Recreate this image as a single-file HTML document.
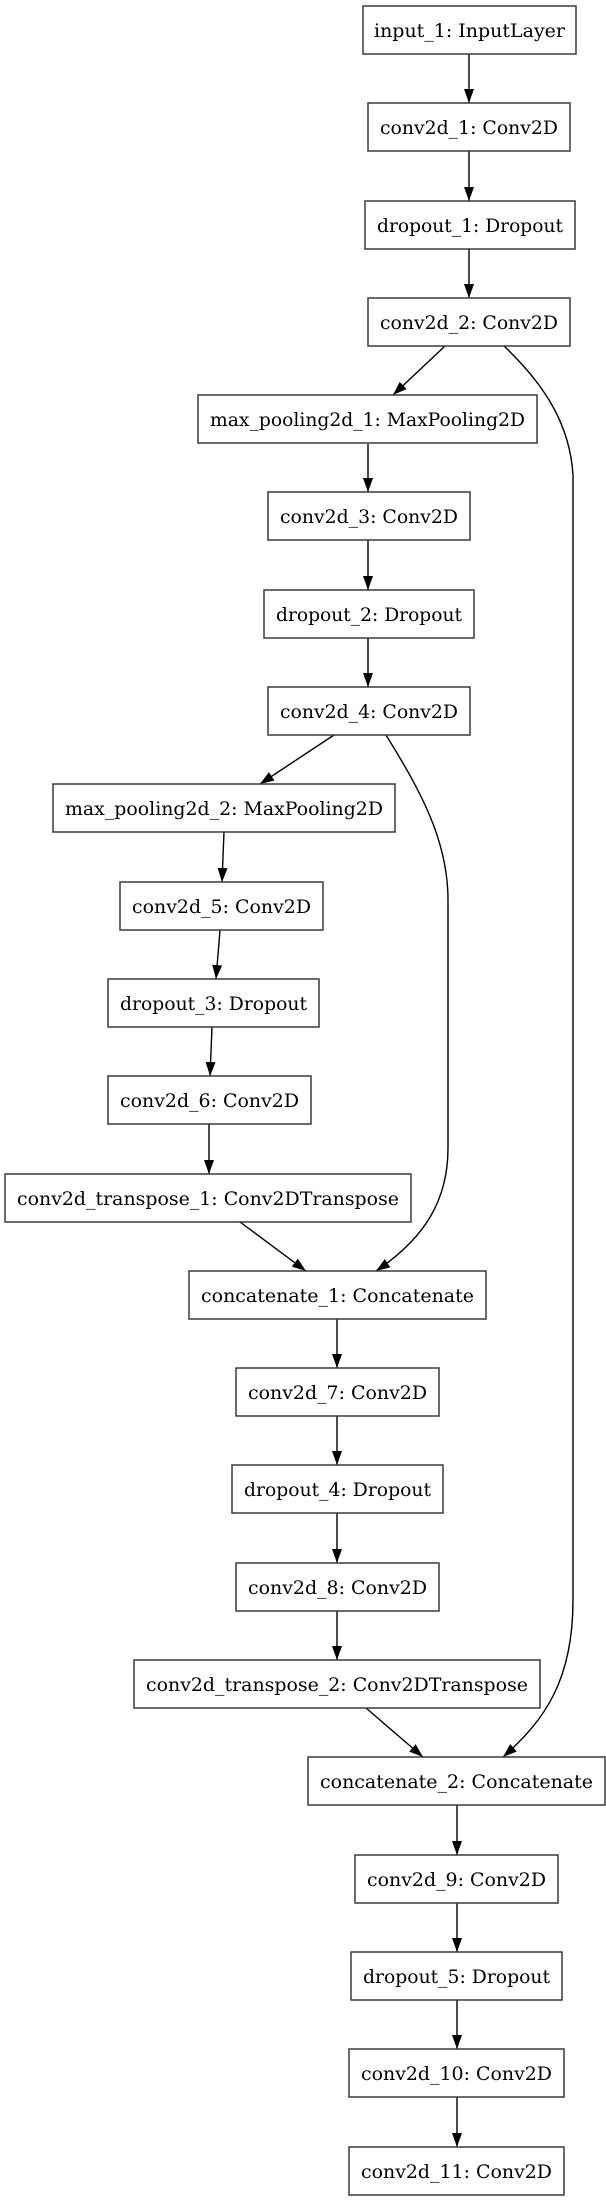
<!DOCTYPE html>
<html><head><meta charset="utf-8"><style>
html,body{margin:0;padding:0;background:#fff;}
svg{display:block;}
text{font-family:"DejaVu Serif","Liberation Serif",serif;font-size:18.5px;fill:#000;}
rect{fill:#fff;stroke:#3a3a3a;stroke-width:1.5;}
path.e{fill:none;stroke:#000;stroke-width:1.4;}
</style></head><body>
<svg width="606" height="2201" viewBox="0 0 606 2201" xmlns="http://www.w3.org/2000/svg">
<defs>
<marker id="a" markerUnits="userSpaceOnUse" markerWidth="15" markerHeight="11" refX="14" refY="5" orient="auto">
<path d="M0,0 L14,5 L0,10 z" fill="#000"/>
</marker>
</defs>
<g>
<path class="e" marker-end="url(#a)" d="M469,54 L469,103"/>
<path class="e" marker-end="url(#a)" d="M469,151 L469,201"/>
<path class="e" marker-end="url(#a)" d="M469,249 L469,298"/>
<path class="e" marker-end="url(#a)" d="M445,346 L393,395"/>
<path class="e" marker-end="url(#a)" d="M368,444 L368,492"/>
<path class="e" marker-end="url(#a)" d="M368,540 L368,590"/>
<path class="e" marker-end="url(#a)" d="M368,638 L368,687"/>
<path class="e" marker-end="url(#a)" d="M334,735 L260,784"/>
<path class="e" marker-end="url(#a)" d="M224,832 L222,882"/>
<path class="e" marker-end="url(#a)" d="M220,930 L216,979"/>
<path class="e" marker-end="url(#a)" d="M212,1027 L210,1076"/>
<path class="e" marker-end="url(#a)" d="M209,1124 L209,1174"/>
<path class="e" marker-end="url(#a)" d="M240,1222 L306,1271"/>
<path class="e" marker-end="url(#a)" d="M337,1319 L337,1368"/>
<path class="e" marker-end="url(#a)" d="M337,1416 L337,1465"/>
<path class="e" marker-end="url(#a)" d="M337,1513 L337,1563"/>
<path class="e" marker-end="url(#a)" d="M337,1611 L337,1660"/>
<path class="e" marker-end="url(#a)" d="M366,1708 L423,1757"/>
<path class="e" marker-end="url(#a)" d="M457,1805 L457,1855"/>
<path class="e" marker-end="url(#a)" d="M457,1903 L457,1952"/>
<path class="e" marker-end="url(#a)" d="M457,2000 L457,2049"/>
<path class="e" marker-end="url(#a)" d="M457,2097 L457,2147"/>
<path class="e" marker-end="url(#a)" d="M504,346 C545,385 570,425 573,475 L573,1600 C573,1680 545,1720 503,1757"/>
<path class="e" marker-end="url(#a)" d="M386,735 C420,790 448,840 448,900 L448,1148 C448,1200 425,1238 376,1271"/>
</g>
<g>
<rect x="363" y="6" width="213" height="48"/><text x="374" y="37" textLength="191" lengthAdjust="spacingAndGlyphs">input_1: InputLayer</text>
<rect x="368" y="103" width="202" height="48"/><text x="380" y="134" textLength="178" lengthAdjust="spacingAndGlyphs">conv2d_1: Conv2D</text>
<rect x="365" y="201" width="210" height="48"/><text x="377" y="232" textLength="186" lengthAdjust="spacingAndGlyphs">dropout_1: Dropout</text>
<rect x="368" y="298" width="202" height="48"/><text x="380" y="329" textLength="178" lengthAdjust="spacingAndGlyphs">conv2d_2: Conv2D</text>
<rect x="198" y="395" width="339" height="48"/><text x="210" y="426" textLength="315" lengthAdjust="spacingAndGlyphs">max_pooling2d_1: MaxPooling2D</text>
<rect x="268" y="492" width="202" height="48"/><text x="280" y="523" textLength="178" lengthAdjust="spacingAndGlyphs">conv2d_3: Conv2D</text>
<rect x="264" y="590" width="210" height="48"/><text x="276" y="621" textLength="186" lengthAdjust="spacingAndGlyphs">dropout_2: Dropout</text>
<rect x="268" y="687" width="202" height="48"/><text x="280" y="718" textLength="178" lengthAdjust="spacingAndGlyphs">conv2d_4: Conv2D</text>
<rect x="53" y="784" width="342" height="48"/><text x="65" y="815" textLength="318" lengthAdjust="spacingAndGlyphs">max_pooling2d_2: MaxPooling2D</text>
<rect x="120" y="882" width="203" height="48"/><text x="132" y="913" textLength="179" lengthAdjust="spacingAndGlyphs">conv2d_5: Conv2D</text>
<rect x="108" y="979" width="211" height="48"/><text x="120" y="1010" textLength="187" lengthAdjust="spacingAndGlyphs">dropout_3: Dropout</text>
<rect x="108" y="1076" width="203" height="48"/><text x="120" y="1107" textLength="179" lengthAdjust="spacingAndGlyphs">conv2d_6: Conv2D</text>
<rect x="5" y="1174" width="406" height="48"/><text x="17" y="1205" textLength="382" lengthAdjust="spacingAndGlyphs">conv2d_transpose_1: Conv2DTranspose</text>
<rect x="189" y="1271" width="297" height="48"/><text x="201" y="1302" textLength="273" lengthAdjust="spacingAndGlyphs">concatenate_1: Concatenate</text>
<rect x="236" y="1368" width="203" height="48"/><text x="248" y="1399" textLength="179" lengthAdjust="spacingAndGlyphs">conv2d_7: Conv2D</text>
<rect x="232" y="1465" width="211" height="48"/><text x="244" y="1496" textLength="187" lengthAdjust="spacingAndGlyphs">dropout_4: Dropout</text>
<rect x="236" y="1563" width="203" height="48"/><text x="248" y="1594" textLength="179" lengthAdjust="spacingAndGlyphs">conv2d_8: Conv2D</text>
<rect x="134" y="1660" width="406" height="48"/><text x="146" y="1691" textLength="382" lengthAdjust="spacingAndGlyphs">conv2d_transpose_2: Conv2DTranspose</text>
<rect x="308" y="1757" width="297" height="48"/><text x="320" y="1788" textLength="273" lengthAdjust="spacingAndGlyphs">concatenate_2: Concatenate</text>
<rect x="355" y="1855" width="203" height="48"/><text x="367" y="1886" textLength="179" lengthAdjust="spacingAndGlyphs">conv2d_9: Conv2D</text>
<rect x="351" y="1952" width="211" height="48"/><text x="363" y="1983" textLength="187" lengthAdjust="spacingAndGlyphs">dropout_5: Dropout</text>
<rect x="349" y="2049" width="215" height="48"/><text x="361" y="2080" textLength="191" lengthAdjust="spacingAndGlyphs">conv2d_10: Conv2D</text>
<rect x="349" y="2147" width="215" height="48"/><text x="361" y="2178" textLength="191" lengthAdjust="spacingAndGlyphs">conv2d_11: Conv2D</text>
</g>
</svg>
</body></html>
